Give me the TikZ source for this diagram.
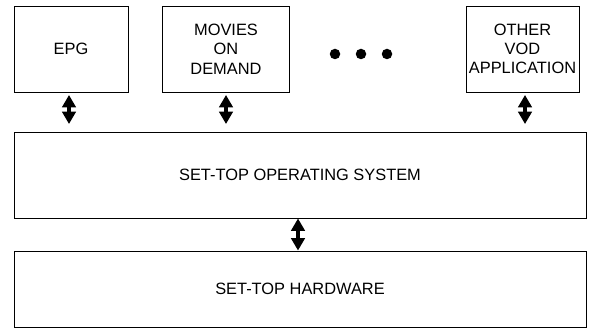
\documentclass[tikz,border=0pt]{standalone}
\usepackage{fontspec}
\setmainfont{Liberation Sans}
\usetikzlibrary{arrows.meta,positioning,calc}
\begin{document}
\begin{tikzpicture}[x=1pt,y=-1pt,
  every node/.style={font=\fontsize{16.4}{19.3}\selectfont},
  box/.style={draw=black,line width=0.9pt,rectangle,inner sep=0pt,align=center},
  link/.style={line width=3.2pt,{Triangle[width=13.5pt,length=12.5pt]}-{Triangle[width=13.5pt,length=12.5pt]}},
  dot/.style={circle,fill=black,inner sep=0pt,minimum size=10.5pt}]
  \useasboundingbox (0,0) rectangle (589,328);

  % application layer
  \node[box,minimum width=114pt,minimum height=86pt] (epg) at (71,49) {EPG};
  \node[box,minimum width=127pt,minimum height=86pt] (mod) at (226,49) {MOVIES\\ON\\DEMAND};
  \node[box,minimum width=113pt,minimum height=86pt] (vod) at (522.5,49) {OTHER\\VOD\\APPLICATION};
  \node[dot] (d1) at (335,54) {};
  \node[dot] (d2) at (361,54) {};
  \node[dot] (d3) at (387,54) {};

  % operating system and hardware layers
  \node[box,minimum width=572pt,minimum height=86pt] (os) at (300,175) {SET-TOP OPERATING SYSTEM};
  \node[box,minimum width=572pt,minimum height=76pt] (hw) at (300,289) {SET-TOP HARDWARE};

  % interfaces between layers
  \draw[link,shorten <=2.5pt,shorten >=7.5pt] ([xshift=-2pt]epg.south) -- ([xshift=-2pt]epg.south |- os.north);
  \draw[link,shorten <=2.5pt,shorten >=7.5pt] (mod.south) -- (mod.south |- os.north);
  \draw[link,shorten <=2.5pt,shorten >=7.5pt] ([xshift=2.5pt]vod.south) -- ([xshift=2.5pt]vod.south |- os.north);
  \draw[link] ([xshift=-2pt]os.south) -- ([xshift=-2pt]os.south |- hw.north);
\end{tikzpicture}
\end{document}
